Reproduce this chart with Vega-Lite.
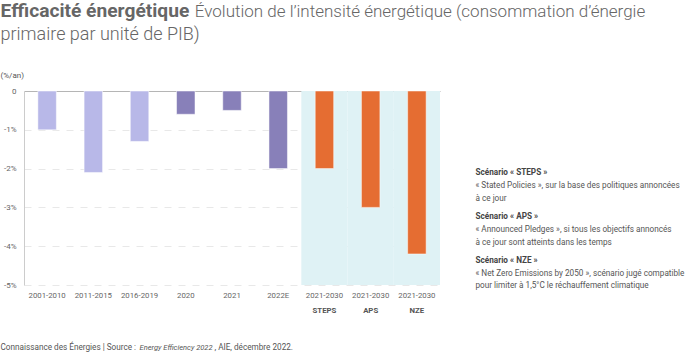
{
  "$schema": "https://vega.github.io/schema/vega-lite/v6.json",
  "width": 416,
  "height": 194,
  "autosize": {"type": "none"},
  "padding": {"left": 24, "top": 91, "right": 260, "bottom": 67},
  "config": {"font": "Roboto", "view": {"stroke": null}},
  "datasets": {
    "main": [
      {"cat": "2001-2010", "value": -1.0, "group": "a"},
      {"cat": "2011-2015", "value": -2.1, "group": "a"},
      {"cat": "2016-2019", "value": -1.3, "group": "a"},
      {"cat": "2020", "value": -0.6, "group": "b"},
      {"cat": "2021", "value": -0.5, "group": "b"},
      {"cat": "2022E", "value": -2.0, "group": "b"},
      {"cat": "2021-2030 STEPS", "value": -2.0, "group": "c"},
      {"cat": "2021-2030 APS", "value": -3.0, "group": "c"},
      {"cat": "2021-2030 NZE", "value": -4.2, "group": "c"}
    ]
  },
  "data": {"name": "main"},
  "layer": [
    {
      "transform": [{"filter": "datum.group == 'c'"}],
      "mark": {"type": "bar", "color": "#dff2f5", "width": {"band": 2.5}},
      "encoding": {
        "x": {
          "field": "cat", "type": "nominal", "sort": null,
          "scale": {"domain": ["2001-2010", "2011-2015", "2016-2019", "2020", "2021", "2022E", "2021-2030 STEPS", "2021-2030 APS", "2021-2030 NZE"], "paddingInner": 0.6, "paddingOuter": 0.3},
          "axis": {
            "orient": "bottom",
            "labelExpr": "length(datum.value) > 10 ? slice(datum.value, 10) : ''",
            "labelAngle": 0, "labelFontSize": 7.8, "labelFontWeight": "bold", "labelColor": "#555555",
            "labelPadding": 21.5, "ticks": false, "domain": false, "grid": false,
            "title": "Energy Efficiency 2022", "titleFontStyle": "italic", "titleFontWeight": "normal",
            "titleFontSize": 7.5, "titleColor": "#555555", "titleX": 115, "titleY": 62,
            "titleAlign": "left", "titleBaseline": "middle", "titleAnchor": null
          }
        },
        "y": {
          "datum": -5, "type": "quantitative",
          "scale": {"domain": [-5, 0], "nice": false},
          "axis": {
            "orient": "right",
            "values": [-2.113, -2.448, -2.758, -3.247, -3.582, -3.892, -4.356, -4.691, -5.0],
            "labelExpr": "['Scénario « STEPS »', '« Stated Policies », sur la base des politiques annoncées', 'à ce jour', 'Scénario « APS »', '« Announced Pledges », si tous les objectifs annoncés', 'à ce jour sont atteints dans les temps', 'Scénario « NZE »', '« Net Zero Emissions by 2050 », scénario jugé compatible', 'pour limiter à 1,5°C le réchauffement climatique'][indexof([-2.113, -2.448, -2.758, -3.247, -3.582, -3.892, -4.356, -4.691, -5.0], datum.value)]",
            "labelFontSize": 8.2,
            "labelFontWeight": {"condition": {"test": "datum.value == -2.113 || datum.value == -3.247 || datum.value == -4.356", "value": "bold"}, "value": "normal"},
            "labelColor": {"condition": {"test": "datum.value == -2.113 || datum.value == -3.247 || datum.value == -4.356", "value": "#444444"}, "value": "#555555"},
            "labelAlign": "left", "labelBaseline": "middle", "labelPadding": 35,
            "labelLimit": 0, "labelOverlap": false, "labelFlush": false,
            "ticks": false, "domain": false, "grid": false,
            "title": ", AIE, décembre 2022.", "titleAngle": 0, "titleFontWeight": "normal",
            "titleFontSize": 8.2, "titleColor": "#555555", "titleX": -226, "titleY": 256,
            "titleAlign": "left", "titleBaseline": "middle", "titleAnchor": null
          }
        },
        "y2": {"datum": 0}
      }
    },
    {
      "mark": {"type": "bar", "stroke": "white", "strokeWidth": 1, "strokeOpacity": 0.5},
      "encoding": {
        "x": {
          "field": "cat", "type": "nominal", "sort": null,
          "scale": {"domain": ["2001-2010", "2011-2015", "2016-2019", "2020", "2021", "2022E", "2021-2030 STEPS", "2021-2030 APS", "2021-2030 NZE"], "paddingInner": 0.6, "paddingOuter": 0.3},
          "axis": {
            "orient": "bottom",
            "labelExpr": "slice(datum.value, 0, 9)",
            "labelAngle": 0, "labelFontSize": 7.8, "labelColor": "#666666",
            "labelPadding": 6, "ticks": false, "domain": false, "grid": false,
            "title": "Connaissance des Énergies | Source :", "titleFontWeight": "normal",
            "titleFontSize": 8.2, "titleColor": "#555555", "titleX": -24, "titleY": 62,
            "titleAlign": "left", "titleBaseline": "middle", "titleAnchor": null
          }
        },
        "y": {
          "field": "value", "type": "quantitative",
          "scale": {"domain": [-5, 0], "nice": false},
          "axis": {
            "orient": "left",
            "values": [0, -1, -2, -3, -4, -5],
            "labelExpr": "datum.value == 0 ? '0' : datum.value + '%'",
            "labelFontSize": 8, "labelColor": "#666666", "labelPadding": 8,
            "ticks": false, "domain": true, "domainColor": "#cccccc",
            "grid": true,
            "gridColor": {"condition": {"test": "datum.value == 0", "value": "#b5b5b5"}, "value": "#e8e8e8"},
            "gridDash": {"condition": {"test": "datum.value == 0", "value": []}, "value": [7, 7]},
            "title": "(%/an)", "titleAngle": 0, "titleFontWeight": "normal", "titleFontSize": 8,
            "titleColor": "#555555", "titleX": -24, "titleY": -16, "titleAlign": "left",
            "titleBaseline": "middle", "titleAnchor": null
          }
        },
        "color": {
          "field": "group", "type": "nominal",
          "scale": {"domain": ["a", "b", "c"], "range": ["#b8b8e8", "#8880b9", "#e56d32"]},
          "legend": null
        }
      }
    },
    {
      "mark": {"type": "bar", "opacity": 0},
      "encoding": {
        "x": {
          "field": "cat", "type": "nominal", "sort": null,
          "scale": {"domain": ["2001-2010", "2011-2015", "2016-2019", "2020", "2021", "2022E", "2021-2030 STEPS", "2021-2030 APS", "2021-2030 NZE"], "paddingInner": 0.6, "paddingOuter": 0.3},
          "axis": {
            "orient": "top", "labels": false, "ticks": false, "domain": false, "grid": false,
            "title": "Évolution de l’intensité énergétique (consommation d’énergie",
            "titleFontWeight": 300, "titleFontSize": 17, "titleColor": "#666666",
            "titleX": 170.3, "titleY": -75, "titleAlign": "left", "titleBaseline": "alphabetic", "titleAnchor": null
          }
        },
        "y": {
          "field": "value", "type": "quantitative",
          "scale": {"domain": [-5, 0], "nice": false},
          "axis": {
            "orient": "left", "labels": false, "ticks": false, "domain": false, "grid": false,
            "title": "Efficacité énergétique", "titleAngle": 0,
            "titleFontWeight": "bold", "titleFontSize": 19.2, "titleColor": "#666666",
            "titleX": -24, "titleY": -75, "titleAlign": "left", "titleBaseline": "alphabetic", "titleAnchor": null
          }
        }
      }
    },
    {
      "mark": {"type": "bar", "opacity": 0},
      "encoding": {
        "x": {
          "field": "cat", "type": "nominal", "sort": null,
          "scale": {"domain": ["2001-2010", "2011-2015", "2016-2019", "2020", "2021", "2022E", "2021-2030 STEPS", "2021-2030 APS", "2021-2030 NZE"], "paddingInner": 0.6, "paddingOuter": 0.3},
          "axis": {
            "orient": "top", "labels": false, "ticks": false, "domain": false, "grid": false,
            "title": "primaire par unité de PIB)",
            "titleFontWeight": 300, "titleFontSize": 18, "titleColor": "#666666",
            "titleX": -24, "titleY": -51.7, "titleAlign": "left", "titleBaseline": "alphabetic", "titleAnchor": null
          }
        },
        "y": {
          "field": "value", "type": "quantitative",
          "scale": {"domain": [-5, 0], "nice": false},
          "axis": null
        }
      }
    }
  ],
  "resolve": {"axis": {"x": "independent", "y": "independent"}}
}
